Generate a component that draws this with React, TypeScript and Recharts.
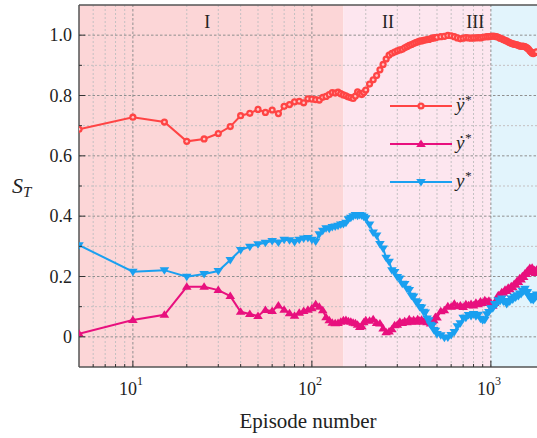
import React from 'react';
import { LineChart, Line, XAxis, YAxis, ReferenceArea, ReferenceLine, ReferenceDot } from 'recharts';

// Episode index at which each sample was recorded
const episodes = [
  5, 10, 15, 20, 25, 30, 35, 40, 45, 50, 55, 60, 65, 70, 75, 80, 85, 90, 95, 100,
  105, 110, 115, 120, 125, 130, 135, 140, 145, 150, 155, 160, 165, 170, 175, 180, 185, 190, 195, 200,
  210, 220, 230, 240, 250, 260, 270, 280, 290, 300, 310, 320, 330, 340, 350, 360, 370, 380, 390, 400,
  410, 420, 430, 440, 450, 460, 470, 480, 490, 500,
  525, 550, 575, 600, 625, 650, 675, 700, 725, 750, 775, 800, 825, 850, 875, 900, 925, 950, 975, 1000,
  1025, 1050, 1075, 1100, 1125, 1150, 1175, 1200, 1225, 1250, 1275, 1300, 1325, 1350, 1375, 1400,
  1425, 1450, 1475, 1500, 1525, 1550, 1575, 1600, 1625, 1650, 1675, 1700, 1725, 1750, 1775, 1800,
];

// Total-order sensitivity index of ÿ*
const sAcc = [
  0.688, 0.728, 0.712, 0.648, 0.656, 0.674, 0.697, 0.733, 0.741, 0.754,
  0.744, 0.752, 0.740, 0.764, 0.770, 0.779, 0.781, 0.776, 0.789, 0.788,
  0.786, 0.785, 0.794, 0.797, 0.803, 0.810, 0.808, 0.811, 0.806, 0.802,
  0.799, 0.795, 0.793, 0.790, 0.798, 0.812, 0.806, 0.803, 0.810, 0.818,
  0.838, 0.852, 0.866, 0.885, 0.903, 0.921, 0.934, 0.940, 0.944, 0.948,
  0.951, 0.953, 0.958, 0.962, 0.966, 0.969, 0.972, 0.975, 0.978, 0.980,
  0.981, 0.983, 0.984, 0.985, 0.986, 0.988, 0.990, 0.991, 0.992, 0.993,
  0.995, 0.996, 0.999, 0.998, 0.995, 0.991, 0.988, 0.990, 0.992, 0.991,
  0.990, 0.991, 0.991, 0.992, 0.991, 0.993, 0.994, 0.995, 0.995, 0.996,
  0.997, 0.996, 0.995, 0.993, 0.990, 0.988, 0.985, 0.983, 0.981, 0.978,
  0.975, 0.973, 0.971, 0.970, 0.969, 0.968, 0.966, 0.964, 0.963, 0.964,
  0.963, 0.962, 0.960, 0.957, 0.953, 0.948, 0.944, 0.940, 0.939, 0.941,
  0.943, 0.945,
];

// Total-order sensitivity index of ẏ*
const sVel = [
  0.010, 0.056, 0.073, 0.166, 0.166, 0.155, 0.135, 0.083, 0.076, 0.069,
  0.089, 0.086, 0.104, 0.090, 0.078, 0.070, 0.080, 0.086, 0.090, 0.095,
  0.108, 0.100, 0.088, 0.065, 0.055, 0.047, 0.045, 0.046, 0.050, 0.055,
  0.056, 0.052, 0.050, 0.047, 0.045, 0.040, 0.033, 0.035, 0.048, 0.055,
  0.053, 0.058, 0.046, 0.044, 0.028, 0.015, 0.018, 0.025, 0.038, 0.040,
  0.050, 0.046, 0.052, 0.048, 0.058, 0.051, 0.056, 0.050, 0.058, 0.053,
  0.057, 0.050, 0.054, 0.048, 0.052, 0.044, 0.052, 0.055, 0.066, 0.064,
  0.085, 0.088, 0.101, 0.100, 0.110, 0.101, 0.104, 0.099, 0.108, 0.105,
  0.109, 0.104, 0.113, 0.108, 0.117, 0.112, 0.121, 0.116, 0.120, 0.113,
  0.103, 0.112, 0.123, 0.138, 0.137, 0.148, 0.146, 0.156, 0.152, 0.163,
  0.158, 0.168, 0.164, 0.175, 0.173, 0.185, 0.182, 0.194, 0.190, 0.201,
  0.198, 0.210, 0.208, 0.219, 0.215, 0.228, 0.224, 0.229, 0.219, 0.221,
  0.212, 0.222,
];

// Total-order sensitivity index of y*
const sPos = [
  0.304, 0.216, 0.221, 0.199, 0.208, 0.218, 0.255, 0.288, 0.299, 0.307,
  0.312, 0.318, 0.313, 0.322, 0.320, 0.314, 0.322, 0.326, 0.328, 0.322,
  0.316, 0.340, 0.352, 0.360, 0.358, 0.364, 0.366, 0.368, 0.372, 0.374,
  0.378, 0.390, 0.395, 0.400, 0.404, 0.401, 0.404, 0.402, 0.398, 0.393,
  0.372, 0.346, 0.336, 0.308, 0.293, 0.262, 0.249, 0.221, 0.215, 0.198,
  0.193, 0.176, 0.175, 0.159, 0.155, 0.136, 0.134, 0.118, 0.115, 0.099,
  0.097, 0.083, 0.081, 0.061, 0.055, 0.040, 0.037, 0.023, 0.020, 0.009,
  0.005, -0.003, -0.002, 0.006, 0.016, 0.035, 0.045, 0.063, 0.063, 0.072,
  0.069, 0.076, 0.068, 0.073, 0.060, 0.055, 0.057, 0.075, 0.082, 0.095,
  0.095, 0.109, 0.109, 0.121, 0.119, 0.127, 0.117, 0.119, 0.109, 0.118,
  0.117, 0.127, 0.124, 0.133, 0.130, 0.138, 0.135, 0.144, 0.142, 0.153,
  0.151, 0.159, 0.149, 0.148, 0.135, 0.135, 0.124, 0.126, 0.122, 0.133,
  0.131, 0.140,
];

// Training phases: boundaries (episodes) and their labels
const phaseBounds = [5, 150, 1000, 1810];
const phaseLabels = ['I', 'II', 'III'];
const phaseLabelEpisodes = [26, 266, 818];

const majorX = [10, 100, 1000];
const minorX = [6, 7, 8, 9, 20, 30, 40, 50, 60, 70, 80, 90, 200, 300, 400, 500, 600, 700, 800, 900];
const majorY = [0, 0.2, 0.4, 0.6, 0.8, 1.0];
const minorY = [0.1, 0.3, 0.5, 0.7, 0.9];

const X_DOMAIN = [5, 1810];
const Y_DOMAIN = [-0.1, 1.1];

const SERIF = "'Liberation Serif', 'Times New Roman', 'DejaVu Serif', serif";
const TEXT = '#222';
const AXIS = '#555';
const PHASE_FILLS = ['#fcd6d7', '#fde6ef', '#e2f4fc'];
const RED = '#ff4444';
const MAGENTA = '#e8107e';
const BLUE = '#1aa0f0';

const rows = episodes.map((ep, i) => ({ ep, acc: sAcc[i], vel: sVel[i], pos: sPos[i] }));

const series = [
  { key: 'acc', color: RED, marker: 'circle', base: 'ÿ' },
  { key: 'vel', color: MAGENTA, marker: 'up', base: 'ẏ' },
  { key: 'pos', color: BLUE, marker: 'down', base: 'y' },
];

const serifStyle = { fontFamily: SERIF };

function Marker({ cx, cy, kind, color }: { cx: number; cy: number; kind: string; color: string }) {
  if (cx == null || cy == null || isNaN(cx) || isNaN(cy)) return null;
  if (kind === 'circle') {
    return (
      <g>
        <circle cx={cx} cy={cy} r={3.6} fill={color} />
        <circle cx={cx} cy={cy} r={1.3} fill="#ffc4c4" />
      </g>
    );
  }
  const hw = 4.8;
  const h = 7.5;
  if (kind === 'up') {
    return (
      <path d={`M${cx},${cy - h * 0.6} L${cx + hw},${cy + h * 0.4} L${cx - hw},${cy + h * 0.4} Z`} fill={color} />
    );
  }
  return (
    <path d={`M${cx},${cy + h * 0.6} L${cx + hw},${cy - h * 0.4} L${cx - hw},${cy - h * 0.4} Z`} fill={color} />
  );
}

const makeDot = (kind: string, color: string) => (p: any) => (
  <Marker key={`${kind}-${p.index}`} cx={p.cx} cy={p.cy} kind={kind} color={color} />
);

function XTick(props: any) {
  const { x, y, payload } = props;
  const v = payload.value;
  const major = majorX.includes(v);
  return (
    <g>
      <line x1={x} x2={x} y1={y} y2={y - (major ? 6 : 3)} stroke="#333" strokeWidth={1} />
      {major && (
        <text x={x - 2} y={y + 28} textAnchor="middle" fontSize={18} style={serifStyle} fill={TEXT}>
          10
          <tspan dy={-10} fontSize={12}>
            {Math.round(Math.log10(v))}
          </tspan>
        </text>
      )}
    </g>
  );
}

function YTick(props: any) {
  const { x, y, payload } = props;
  const v = payload.value;
  const major = Math.round(v * 10) % 2 === 0;
  return (
    <g>
      <line x1={x} x2={x + (major ? 6 : 3)} y1={y} y2={y} stroke="#333" strokeWidth={1} />
      {major && (
        <text x={x - 7} y={y} dy="0.35em" textAnchor="end" fontSize={18} style={serifStyle} fill={TEXT}>
          {v === 0 ? '0' : v.toFixed(1)}
        </text>
      )}
    </g>
  );
}

const phaseLabelShape = (text: string) => (p: any) => (
  <text x={p.cx} y={p.cy + 6} textAnchor="middle" fontSize={18} style={serifStyle} fill={TEXT}>
    {text}
  </text>
);

export default function App() {
  const W = 537;
  const H = 438;
  return (
    <div style={{ position: 'absolute', left: 0, top: 0, width: W, height: H, overflow: 'hidden', background: '#fff' }}>
      <LineChart width={W} height={H} data={rows} margin={{ top: 5, right: 0, bottom: 0, left: 0 }}>
        {phaseLabels.map((_, i) => (
          <ReferenceArea
            key={`ph-${i}`}
            x1={phaseBounds[i]}
            x2={phaseBounds[i + 1]}
            y1={Y_DOMAIN[0]}
            y2={Y_DOMAIN[1]}
            fill={PHASE_FILLS[i]}
            fillOpacity={1}
            stroke="none"
          />
        ))}
        {minorY.map((v) => (
          <ReferenceLine key={`my-${v}`} y={v} stroke="#c4c0c2" strokeDasharray="2 2" strokeWidth={1} />
        ))}
        {minorX.map((v) => (
          <ReferenceLine key={`mx-${v}`} x={v} stroke="#c4c0c2" strokeDasharray="2 2" strokeWidth={1} />
        ))}
        {majorY.map((v) => (
          <ReferenceLine key={`My-${v}`} y={v} stroke="#8f8f8f" strokeDasharray="2.5 2" strokeWidth={1} />
        ))}
        {majorX.map((v) => (
          <ReferenceLine key={`Mx-${v}`} x={v} stroke="#8f8f8f" strokeDasharray="2.5 2" strokeWidth={1} />
        ))}
        <ReferenceLine y={Y_DOMAIN[1]} stroke={AXIS} strokeWidth={1.5} />
        <XAxis
          dataKey="ep"
          type="number"
          scale="log"
          domain={X_DOMAIN}
          allowDataOverflow
          ticks={[...minorX, ...majorX].sort((a, b) => a - b)}
          interval={0}
          tickSize={0}
          tickMargin={0}
          tickLine={false}
          tick={XTick}
          axisLine={{ stroke: AXIS, strokeWidth: 1.5 }}
          height={71}
        />
        <YAxis
          type="number"
          domain={Y_DOMAIN}
          allowDataOverflow
          ticks={[...majorY, ...minorY].sort((a, b) => a - b)}
          interval={0}
          tickSize={0}
          tickMargin={0}
          tickLine={false}
          tick={YTick}
          axisLine={{ stroke: AXIS, strokeWidth: 1.5 }}
          width={79}
        />
        <Line dataKey="acc" stroke={RED} strokeWidth={2} dot={makeDot('circle', RED)} isAnimationActive={false} />
        <Line dataKey="vel" stroke={MAGENTA} strokeWidth={2} dot={makeDot('up', MAGENTA)} isAnimationActive={false} />
        <Line dataKey="pos" stroke={BLUE} strokeWidth={2} dot={makeDot('down', BLUE)} isAnimationActive={false} />
        {phaseLabels.map((t, i) => (
          <ReferenceDot key={`pl-${t}`} x={phaseLabelEpisodes[i]} y={1.045} r={0} shape={phaseLabelShape(t)} />
        ))}
      </LineChart>
      <svg
        width={W}
        height={H}
        style={{ position: 'absolute', left: 0, top: 0, pointerEvents: 'none' }}
      >
        <text x={12} y={193} fontSize={22} fontStyle="italic" style={serifStyle} fill={TEXT}>
          S
          <tspan dy={4} fontSize={15}>
            T
          </tspan>
        </text>
        <text x={308} y={428} textAnchor="middle" fontSize={21} style={serifStyle} fill={TEXT}>
          Episode number
        </text>
        {series.map((s, i) => {
          const ly = 106 + i * 38;
          return (
            <g key={s.key}>
              <line x1={390} x2={452} y1={ly} y2={ly} stroke={s.color} strokeWidth={2} />
              <Marker cx={421} cy={ly} kind={s.marker} color={s.color} />
              <text x={456} y={ly + 5} fontSize={19} fontStyle="italic" style={serifStyle} fill={TEXT}>
                {s.base}
                <tspan dy={-7} fontSize={13}>
                  *
                </tspan>
              </text>
            </g>
          );
        })}
      </svg>
    </div>
  );
}
